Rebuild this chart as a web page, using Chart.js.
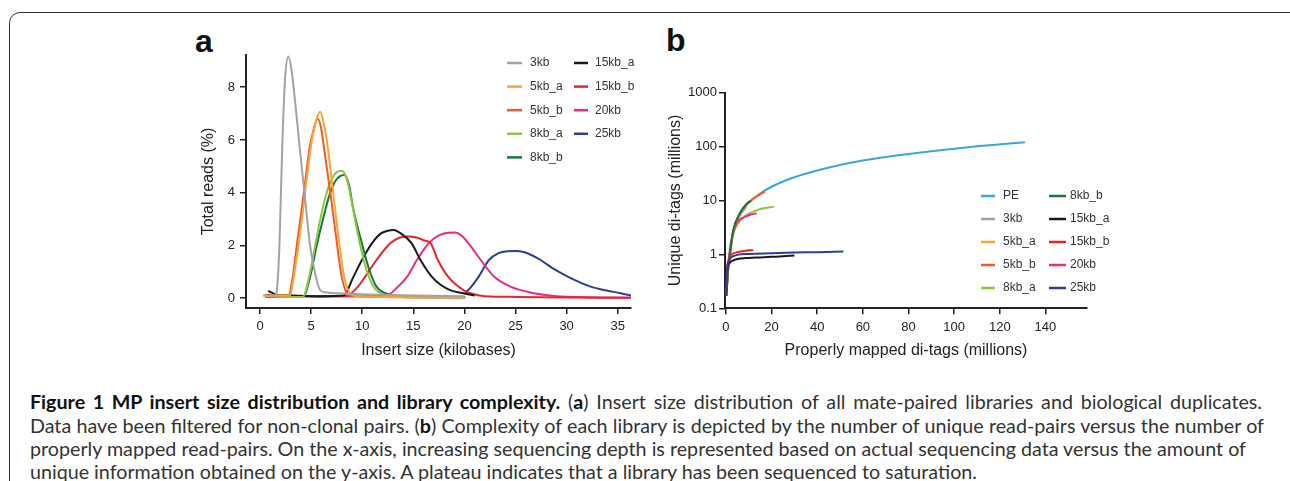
<!DOCTYPE html>
<html>
<head>
<meta charset="utf-8">
<script src="https://cdn.jsdelivr.net/npm/chart.js@4.4.0/dist/chart.umd.min.js"></script>
<style>
  body { margin: 0; width: 1290px; height: 481px; overflow: hidden; background: #fff; position: relative; font-family: "Liberation Sans", Arial, sans-serif; }
  .frame { position: absolute; left: 9px; top: 12px; width: 1290px; height: 520px; border: 1.5px solid #333; border-radius: 11px; }
  canvas { position: absolute; }
  .panel { position: absolute; font: bold 32px "Liberation Sans", Arial, sans-serif; color: #111; line-height: 1; }
  .cap { position: absolute; left: 30px; font-size: 20px; line-height: 23px; color: #333; white-space: nowrap;
         font-family: Lato, "Open Sans", sans-serif; }
  .cap b { color: #111; }
</style>
</head>
<body>
<div class="frame"></div>
<div class="panel" style="left:195px; top:25px;">a</div>
<div class="panel" style="left:666px; top:24px;">b</div>
<canvas id="chartA" width="470" height="340" style="left:180px; top:30px;"></canvas>
<canvas id="chartB" width="570" height="340" style="left:640px; top:30px;"></canvas>

<div class="cap" data-w="1232" style="top:390px;"><b>Figure 1 MP insert size distribution and library complexity.</b> (<b>a</b>) Insert size distribution of all mate-paired libraries and biological duplicates.</div>
<div class="cap" data-w="1234" style="top:413.5px;">Data have been filtered for non-clonal pairs. (<b>b</b>) Complexity of each library is depicted by the number of unique read-pairs versus the number of</div>
<div class="cap" data-w="1216" style="top:437px;">properly mapped read-pairs. On the x-axis, increasing sequencing depth is represented based on actual sequencing data versus the amount of</div>
<div class="cap" style="top:459.5px;">unique information obtained on the y-axis. A plateau indicates that a library has been sequenced to saturation.</div>

<script>
// ---- panel a: insert size distribution (kb -> % of total reads)
const libsA = ["3kb", "5kb_a", "5kb_b", "8kb_a", "8kb_b", "15kb_a", "15kb_b", "20kb", "25kb"];
const colorsA = ["#a3a3a3", "#f9a533", "#f15a2b", "#8cc63e", "#137a3c", "#1a1a1a", "#e4262b", "#ea2a84", "#2f3d99"];

const kb3 = [0.9, 1.5, 1.65, 1.9, 2.18, 2.45, 2.78, 3.1, 3.5, 3.86, 4.35, 4.9, 5.5, 5.9, 6.5, 8, 10, 12, 15, 20];
const pct3 = [0.1, 0.12, 0.3, 2.0, 5.8, 8.3, 9.16, 8.6, 7.2, 5.8, 4.0, 2.0, 0.76, 0.3, 0.22, 0.18, 0.15, 0.13, 0.1, 0.08];
const kb5a = [0.5, 2.0, 2.94, 3.3, 3.76, 4.2, 4.58, 5.0, 5.4, 5.88, 6.2, 6.6, 7.19, 7.78, 8.24, 9.0, 10, 12, 15, 20];
const pct5a = [0.08, 0.1, 0.1, 0.8, 2.0, 3.3, 4.55, 5.8, 6.6, 7.07, 6.7, 5.8, 3.9, 2.0, 0.8, 0.12, 0.07, 0.05, 0.04, 0.03];
const kb5b = [0.8, 2.0, 2.8, 3.2, 3.6, 4.05, 4.45, 4.85, 5.25, 5.65, 6.0, 6.3, 6.95, 7.55, 8.0, 8.7, 10, 12, 15, 20];
const pct5b = [0.1, 0.1, 0.1, 0.8, 2.0, 3.3, 4.5, 5.7, 6.4, 6.8, 6.4, 5.6, 3.8, 2.0, 0.8, 0.12, 0.07, 0.05, 0.04, 0.03];
const kb8a = [0.3, 2, 4.2, 4.8, 5.4, 5.9, 6.47, 7.0, 7.5, 8.0, 8.5, 9.0, 9.7, 10.4, 11.1, 12.2, 14, 17, 20];
const pct8a = [0.1, 0.05, 0.05, 0.8, 2.0, 3.0, 3.92, 4.5, 4.78, 4.83, 4.5, 3.6, 2.2, 1.1, 0.45, 0.12, 0.05, 0.04, 0.04];
const kb8b = [0.5, 2, 4.2, 4.9, 5.55, 6.1, 6.8, 7.3, 7.8, 8.27, 8.7, 9.15, 9.97, 10.7, 11.4, 12.6, 14, 17, 20.1];
const pct8b = [0.05, 0.05, 0.05, 0.8, 2.0, 2.9, 3.92, 4.4, 4.62, 4.67, 4.3, 3.35, 2.08, 1.07, 0.44, 0.15, 0.05, 0.04, 0.04];
const kb15a = [0.8, 1.2, 1.6, 3, 6, 8.17, 9.15, 9.97, 10.95, 11.8, 12.5, 13.07, 13.8, 14.84, 15.7, 16.8, 17.7, 18.6, 19.9, 21];
const pct15a = [0.28, 0.2, 0.13, 0.1, 0.08, 0.1, 0.82, 1.45, 2.08, 2.45, 2.56, 2.59, 2.45, 2.08, 1.45, 0.82, 0.5, 0.31, 0.19, 0.1];
const kb15b = [0.8, 3, 6, 8.5, 9.5, 10.3, 11.4, 12.75, 13.7, 14.5, 15.3, 16.0, 16.7, 17.4, 18.4, 19.9, 20.6, 22, 25, 30, 36.3];
const pct15b = [0.1, 0.08, 0.06, 0.1, 0.4, 0.82, 1.45, 2.08, 2.3, 2.34, 2.3, 2.2, 2.08, 1.45, 0.82, 0.31, 0.19, 0.08, 0.05, 0.03, 0.02];
const kb20 = [0.5, 3, 6, 9, 12.4, 13.4, 14.4, 15.35, 16.5, 17.5, 18.4, 19.1, 19.7, 20.4, 21.6, 22.9, 24.5, 26.8, 29, 32, 36.3];
const pct20 = [0.12, 0.1, 0.08, 0.07, 0.1, 0.4, 0.82, 1.45, 2.08, 2.38, 2.48, 2.49, 2.38, 2.08, 1.45, 0.82, 0.44, 0.19, 0.08, 0.04, 0.02];
const kb25 = [20.1, 20.6, 21.4, 22.4, 23.3, 24.2, 25.0, 25.8, 26.6, 27.45, 28.7, 30.1, 31.2, 32.35, 33.8, 35.3, 36.3];
const pct25 = [0.21, 0.4, 0.82, 1.45, 1.7, 1.78, 1.79, 1.75, 1.63, 1.45, 1.12, 0.82, 0.62, 0.44, 0.3, 0.19, 0.1];

const xTicksA = [0, 5, 10, 15, 20, 25, 30, 35];
const yTicksA = [0, 2, 4, 6, 8];

// ---- panel b: library complexity (millions)
const libsB = ["PE", "3kb", "5kb_a", "5kb_b", "8kb_a", "8kb_b", "15kb_a", "15kb_b", "20kb", "25kb"];
const colorsB = ["#3aa6dd", "#a3a3a3", "#f9a533", "#f15a2b", "#8cc63e", "#137a3c", "#1a1a1a", "#e4262b", "#ea2a84", "#2f3d99"];
const drawOrderB = [10, 9, 8, 5, 7, 4, 3, 2, 6, 1]; // higher = drawn further back

const mapPE = [0.3, 1, 1.75, 3.2, 6.1, 9, 12, 15, 20, 25, 30, 40, 50, 60, 70, 80, 90, 100, 110, 120, 131];
const uniqPE = [0.2, 0.55, 1.0, 2.6, 5.5, 8.3, 10.8, 13.5, 18, 22.5, 27, 36, 45.5, 55, 64, 73, 82, 91.5, 101, 110, 120];
const map3 = [0.3, 1, 1.75, 3, 5, 7, 9];
const uniq3 = [0.2, 0.55, 1.0, 2.4, 4.3, 6.0, 7.6];
const map5a = [0.3, 1, 1.75, 3.2, 6.1, 9, 12, 15];
const uniq5a = [0.2, 0.55, 1.0, 2.7, 5.6, 8.4, 10.8, 13];
const map5b = [0.3, 1, 1.75, 3.2, 6.1, 9, 12, 15, 17.1];
const uniq5b = [0.2, 0.55, 1.0, 2.7, 5.6, 8.4, 10.8, 13, 14.5];
const map8a = [0.3, 1, 1.75, 3, 5, 7, 10, 13, 16, 21.1];
const uniq8a = [0.2, 0.55, 1.0, 2.2, 3.6, 4.6, 5.7, 6.5, 7.1, 7.7];
const map8b = [0.3, 1, 1.75, 3.2, 6.1, 9, 11];
const uniq8b = [0.2, 0.6, 1.05, 2.8, 5.8, 8.6, 10];
const map15a = [0.2, 0.5, 1, 2, 3, 5, 10, 15, 20, 25, 30];
const uniq15a = [0.17, 0.45, 0.62, 0.72, 0.77, 0.82, 0.86, 0.88, 0.9, 0.92, 0.95];
const map15b = [0.2, 0.5, 1, 2, 3, 5, 8, 12];
const uniq15b = [0.17, 0.5, 0.75, 0.95, 1.03, 1.1, 1.16, 1.2];
const map20 = [0.3, 1, 2, 2.5, 3.5, 4.7, 6.6, 9, 11, 13.5];
const uniq20 = [0.2, 0.6, 1.5, 1.9, 2.8, 3.8, 4.6, 5.1, 5.5, 5.8];
const map25 = [0.2, 0.5, 1, 2, 3, 5, 10, 20, 30, 40, 51.5];
const uniq25 = [0.17, 0.5, 0.7, 0.85, 0.92, 0.98, 1.02, 1.05, 1.08, 1.1, 1.13];

const xTicksB = [0, 20, 40, 60, 80, 100, 120, 140];
const yTicksB = [0.1, 1, 10, 100, 1000];

const pts = (xs, ys) => xs.map((x, i) => ({ x: x, y: ys[i] }));

const seriesA = [[kb3, pct3], [kb5a, pct5a], [kb5b, pct5b], [kb8a, pct8a], [kb8b, pct8b],
                 [kb15a, pct15a], [kb15b, pct15b], [kb20, pct20], [kb25, pct25]];
const seriesB = [[mapPE, uniqPE], [map3, uniq3], [map5a, uniq5a], [map5b, uniq5b], [map8a, uniq8a],
                 [map8b, uniq8b], [map15a, uniq15a], [map15b, uniq15b], [map20, uniq20], [map25, uniq25]];

const FONT = '"Liberation Sans", Arial, sans-serif';
const INK = "#222";

// two-column legend drawn inside the plot
const colLegend = {
  id: "colLegend",
  afterDraw(chart, args, opts) {
    const ctx = chart.ctx;
    ctx.save();
    ctx.font = "12px " + FONT;
    ctx.textBaseline = "middle";
    chart.data.datasets.forEach((ds, i) => {
      const c = opts.cols[Math.floor(i / opts.rows)];
      const y = opts.top + (i % opts.rows) * opts.step;
      ctx.strokeStyle = ds.borderColor;
      ctx.lineWidth = 2.5;
      ctx.beginPath();
      ctx.moveTo(c[0], y);
      ctx.lineTo(c[1], y);
      ctx.stroke();
      ctx.fillStyle = "#333";
      ctx.fillText(ds.label, c[2], y);
    });
    ctx.restore();
  }
};

function makeDatasets(labels, colors, series, order) {
  return labels.map((l, i) => ({
    label: l,
    data: pts(series[i][0], series[i][1]),
    borderColor: colors[i],
    backgroundColor: colors[i],
    borderWidth: 2,
    pointRadius: 0,
    cubicInterpolationMode: "monotone",
    fill: false,
    order: order ? order[i] : 0
  }));
}

function axis(opts) {
  return Object.assign({
    border: { display: true, color: INK, width: 2 },
    grid: { drawOnChartArea: false, drawTicks: true, tickLength: 6, color: INK, lineWidth: 1.5 },
    ticks: { color: INK, font: { size: 13, family: FONT }, padding: 5, autoSkip: false, maxRotation: 0 }
  }, opts);
}

new Chart(document.getElementById("chartA"), {
  type: "line",
  data: { datasets: makeDatasets(libsA, colorsA, seriesA) },
  plugins: [colLegend],
  options: {
    responsive: false,
    animation: false,
    layout: { padding: { top: 25, right: 19, left: 0, bottom: 0 } },
    plugins: {
      legend: { display: false },
      tooltip: { enabled: false },
      colLegend: { rows: 5, top: 33, step: 23.6, cols: [[327, 342, 350], [394, 408, 415]] }
    },
    scales: {
      x: axis({
        type: "linear", min: -1.37, max: 36.3,
        afterBuildTicks: s => { s.ticks = xTicksA.map(v => ({ value: v })); },
        afterFit: s => { s.height = 62; },
        title: { display: true, text: "Insert size (kilobases)", color: INK, font: { size: 16, family: FONT }, padding: { top: 0, bottom: 10 } }
      }),
      y: axis({
        type: "linear", min: -0.37, max: 9.22,
        afterBuildTicks: s => { s.ticks = yTicksA.map(v => ({ value: v })); },
        afterFit: s => { s.width = 66; },
        title: { display: true, text: "Total reads (%)", color: INK, font: { size: 16, family: FONT }, padding: { top: 19, bottom: 0 } }
      })
    }
  }
});

new Chart(document.getElementById("chartB"), {
  type: "line",
  data: { datasets: makeDatasets(libsB, colorsB, seriesB, drawOrderB) },
  plugins: [colLegend],
  options: {
    responsive: false,
    animation: false,
    layout: { padding: { top: 62.7, right: 123, left: 0, bottom: 0 } },
    plugins: {
      legend: { display: false },
      tooltip: { enabled: false },
      colLegend: { rows: 5, top: 166, step: 23, cols: [[341, 355, 363], [409, 426, 430]] }
    },
    scales: {
      x: axis({
        type: "linear", min: -0.4, max: 158.2,
        afterBuildTicks: s => { s.ticks = xTicksB.map(v => ({ value: v })); },
        afterFit: s => { s.height = 61.7; },
        title: { display: true, text: "Properly mapped di-tags (millions)", color: INK, font: { size: 16, family: FONT }, padding: { top: 0, bottom: 10 } }
      }),
      y: axis({
        type: "logarithmic", min: 0.1, max: 1000,
        afterBuildTicks: s => { s.ticks = yTicksB.map(v => ({ value: v, major: true })); },
        afterFit: s => { s.width = 85; },
        ticks: { color: INK, font: { size: 13, family: FONT }, padding: 2, autoSkip: false, callback: v => String(v) },
        title: { display: true, text: "Unique di-tags (millions)", color: INK, font: { size: 16, family: FONT }, padding: { top: 26, bottom: 0 } }
      })
    }
  }
});

// caption: pick one font size so the widest line fits its width,
// then widen the word gaps of the other full lines to reach the margin
const caps = Array.from(document.querySelectorAll(".cap"));
const full = caps.filter(el => el.dataset.w);
const size = 20 * Math.min(...full.map(el => Number(el.dataset.w) / el.getBoundingClientRect().width));
caps.forEach(el => { el.style.fontSize = size + "px"; });
full.forEach(el => {
  const w = el.getBoundingClientRect().width;
  const gaps = (el.textContent.match(/ /g) || []).length;
  el.style.wordSpacing = Math.max(0, Math.min(3, (Number(el.dataset.w) - w) / gaps)) + "px";
});
</script>
</body>
</html>
